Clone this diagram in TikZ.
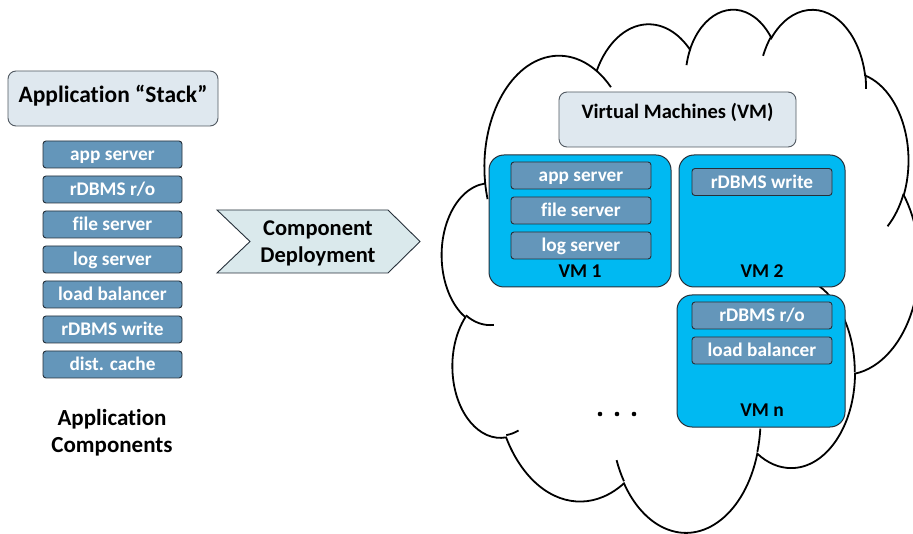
\documentclass[tikz,border=0pt]{standalone}
\usepackage{fontspec}
\setmainfont{Carlito}[RawFeature={-liga;-clig;-dlig;-calt}]
\definecolor{compblue}{HTML}{6496BA}
\definecolor{vmblue}{HTML}{00B9F2}
\definecolor{titlefill}{HTML}{DFE8EF}
\definecolor{arrowfill}{HTML}{DAE9EC}
\definecolor{edgedark}{HTML}{26303A}
\newcommand\cldang[5]{%
  \pgfmathsetmacro\cldA{atan2((#1)*sin(#3),(#2)*cos(#3))}%
  \pgfmathsetmacro\cldE{atan2((#1)*sin((#3)+(#4)),(#2)*cos((#3)+(#4)))}%
  \pgfmathsetmacro\cldD{\cldE-\cldA}%
  \pgfmathsetmacro\cldD{\cldD+360*(\cldD<0)}%
  \pgfmathsetmacro\cldB{\cldA+\cldD}%
  \expandafter\global\expandafter\let\csname clds#5\endcsname\cldA
  \expandafter\global\expandafter\let\csname clde#5\endcsname\cldB
}
\begin{document}
\begin{tikzpicture}[x=1pt,y=-1pt,
  cloudline/.style={draw=black,line width=1.8pt},
  compbox/.style={draw=edgedark,line width=0.9pt,fill=compblue,rounded corners=3pt,
    minimum width=139pt,minimum height=27pt,inner sep=0pt,text=white,
    text height=12.4pt,text depth=0pt,
    font=\bfseries\fontsize{19.3}{19.3}\selectfont},
  titlebox/.style={draw=edgedark!80,line width=0.9pt,fill=titlefill,rounded corners=8pt,inner sep=0pt},
  vmbox/.style={draw=edgedark,line width=1pt,fill=vmblue,rounded corners=15pt,inner sep=0pt},
  bigtext/.style={font=\bfseries\fontsize{23}{27}\selectfont,text=black,align=center,inner sep=0pt},
  vmlabel/.style={font=\bfseries\fontsize{19.5}{19.5}\selectfont,text=black,inner sep=0pt}
]
\useasboundingbox (0,0) rectangle (913,534);
\clip (0,0) rectangle (913,534);
\fill[white] (0,0) rectangle (913,534);

% ---- cloud (PowerPoint cloud geometry) ----
\cldang{6.753}{9.190}{-190.4875}{123.7805}{a}
\cldang{5.333}{7.267}{-144.1024}{89.9452}{b}
\cldang{4.365}{5.945}{-145.8079}{99.7230}{c}
\cldang{4.857}{6.595}{-130.9861}{117.2417}{d}
\cldang{5.333}{7.273}{-78.7089}{109.0269}{e}
\cldang{6.775}{9.220}{-46.2673}{130.2690}{f}
\cldang{5.785}{7.867}{0.6250}{114.0333}{g}
\cldang{6.752}{9.215}{22.4516}{115.1726}{h}
\cldang{7.720}{10.543}{66.2426}{75.7110}{i}
\cldang{4.360}{5.918}{-274.9421}{146.7356}{j}
\cldang{4.345}{5.945}{-246.8285}{152.5189}{k}
\cldang{4.345}{5.945}{86.742}{26.4295}{ia}
\cldang{4.360}{5.918}{73.6105}{11.4475}{ib}
\cldang{6.752}{9.215}{137.6242}{14.0811}{ic}
\cldang{6.752}{9.215}{6.4533}{15.9984}{id}
\cldang{5.785}{7.867}{-70.2924}{70.9174}{ie}
\cldang{5.333}{7.273}{30.3180}{27.7515}{if}
\cldang{4.857}{6.595}{-13.7443}{14.8589}{ig}
\cldang{4.857}{6.595}{-149.1815}{18.1954}{ih}
\cldang{4.365}{5.945}{-163.4943}{17.6864}{ii}
\cldang{6.753}{9.190}{-66.7070}{12.3194}{ij}
\cldang{6.753}{9.190}{157.6544}{11.8582}{ik}
\begin{scope}[shift={(442,8)},x=11.042pt,y=-12.106pt]
  \draw[cloudline,fill=white] (3.900,14.370)
    arc[start angle=\cldsa,end angle=\cldea,x radius=6.753,y radius=9.190]
    arc[start angle=\cldsb,end angle=\cldeb,x radius=5.333,y radius=7.267]
    arc[start angle=\cldsc,end angle=\cldec,x radius=4.365,y radius=5.945]
    arc[start angle=\cldsd,end angle=\clded,x radius=4.857,y radius=6.595]
    arc[start angle=\cldse,end angle=\cldee,x radius=5.333,y radius=7.273]
    arc[start angle=\cldsf,end angle=\cldef,x radius=6.775,y radius=9.220]
    arc[start angle=\cldsg,end angle=\cldeg,x radius=5.785,y radius=7.867]
    arc[start angle=\cldsh,end angle=\cldeh,x radius=6.752,y radius=9.215]
    arc[start angle=\cldsi,end angle=\cldei,x radius=7.720,y radius=10.543]
    arc[start angle=\cldsj,end angle=\cldej,x radius=4.360,y radius=5.918]
    arc[start angle=\cldsk,end angle=\cldek,x radius=4.345,y radius=5.945]
    -- cycle;
  \draw[cloudline] (4.693,26.177) arc[start angle=\cldsia,end angle=\cldeia,x radius=4.345,y radius=5.945];
  \draw[cloudline] (6.928,34.899) arc[start angle=\cldsib,end angle=\cldeib,x radius=4.360,y radius=5.918];
  \draw[cloudline] (16.478,39.090) arc[start angle=\cldsic,end angle=\cldeic,x radius=6.752,y radius=9.215];
  \draw[cloudline] (28.827,34.751) arc[start angle=\cldsid,end angle=\cldeid,x radius=6.752,y radius=9.215];
  \draw[cloudline] (34.129,22.954) arc[start angle=\cldsie,end angle=\cldeie,x radius=5.785,y radius=7.867];
  \draw[cloudline] (41.798,15.354) arc[start angle=\cldsif,end angle=\cldeif,x radius=5.333,y radius=7.273];
  \draw[cloudline] (38.324,5.426) arc[start angle=\cldsig,end angle=\cldeig,x radius=4.857,y radius=6.595];
  \draw[cloudline] (29.078,3.952) arc[start angle=\cldsih,end angle=\cldeih,x radius=4.857,y radius=6.595];
  \draw[cloudline] (22.141,4.720) arc[start angle=\cldsii,end angle=\cldeii,x radius=4.365,y radius=5.945];
  \draw[cloudline] (14.000,5.192) arc[start angle=\cldsij,end angle=\cldeij,x radius=6.753,y radius=9.190];
  \draw[cloudline] (4.127,15.789) arc[start angle=\cldsik,end angle=\cldeik,x radius=6.753,y radius=9.190];
\end{scope}

% ---- left: application stack ----
\node[titlebox,minimum width=210pt,minimum height=55pt] (stackbox) at (113,98.5) {};
\node[bigtext,font=\bfseries\fontsize{23.5}{27}\selectfont] (stacklabel) at (113,95.5) {Application “Stack”};
\node[compbox] (c1) at (112.5,154.5) {app server};
\node[compbox] (c2) at (112.5,189.5) {rDBMS r/o};
\node[compbox] (c3) at (112.5,224.5) {file server};
\node[compbox] (c4) at (112.5,259.5) {log server};
\node[compbox] (c5) at (112.5,294.5) {load balancer};
\node[compbox] (c6) at (112.5,329.5) {rDBMS write};
\node[compbox] (c7) at (112.5,364.5) {dist. cache};
\node[bigtext] (complabel) at (112,433) {Application\\Components};

% ---- deployment arrow ----
\draw[draw=edgedark,line width=0.9pt,fill=arrowfill]
  (217,210) -- (388,210) -- (420,241.5) -- (388,273) -- (217,273) -- (250,241.5) -- cycle;
\node[bigtext,font=\bfseries\fontsize{22.5}{27}\selectfont] (deploy) at (318,243) {Component\\Deployment};

% ---- virtual machines ----
\node[titlebox,minimum width=237pt,minimum height=55pt] (vmtitle) at (677.5,119.5) {};
\node[bigtext,font=\bfseries\fontsize{20.5}{24}\selectfont] (vmtitlelabel) at (677.5,112) {Virtual Machines (VM)};

\node[vmbox,minimum width=182pt,minimum height=132pt] (vm1) at (580,221) {};
\node[vmbox,minimum width=166pt,minimum height=132pt] (vm2) at (762,221) {};
\node[vmbox,minimum width=168pt,minimum height=132pt] (vmn) at (761,361) {};

\node[compbox,minimum width=140pt] (v1a) at (581,175.5) {app server};
\node[compbox,minimum width=140pt] (v1b) at (581,210.5) {file server};
\node[compbox,minimum width=140pt] (v1c) at (581,245.5) {log server};
\node[vmlabel] (vm1label) at (580,271) {VM 1};

\node[compbox,minimum width=140pt] (v2a) at (762,182) {rDBMS write};
\node[vmlabel] (vm2label) at (762,271) {VM 2};

\node[compbox,minimum width=140pt] (vna) at (762,315.5) {rDBMS r/o};
\node[compbox,minimum width=140pt] (vnb) at (762,350.5) {load balancer};
\node[vmlabel] (vmnlabel) at (762,410) {VM n};

\fill[black] (600,414) circle (2.3) (617,414) circle (2.3) (634,414) circle (2.3);
\end{tikzpicture}
\end{document}
